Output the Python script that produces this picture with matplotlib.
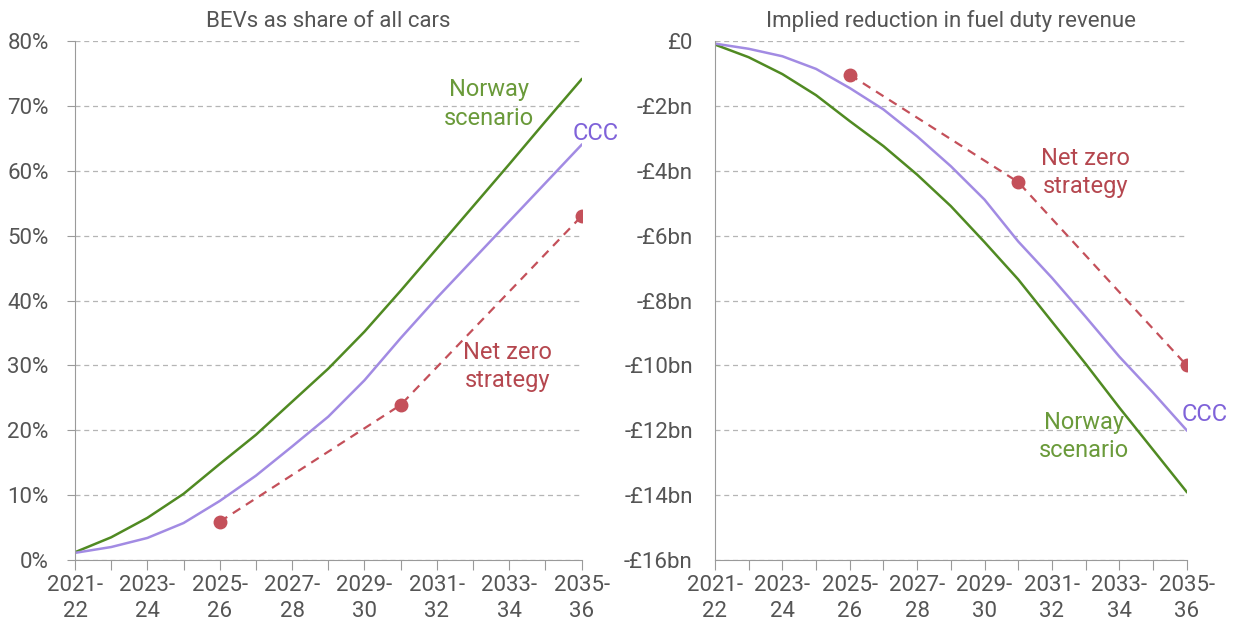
import matplotlib
matplotlib.use('Agg')
import matplotlib.pyplot as plt

plt.rcParams['font.family'] = ['Roboto', 'DejaVu Sans']

years = ['2021-22', '2022-23', '2023-24', '2024-25', '2025-26', '2026-27', '2027-28',
         '2028-29', '2029-30', '2030-31', '2031-32', '2032-33', '2033-34', '2034-35', '2035-36']
xi = list(range(len(years)))

# BEVs as share of all cars (%)
share_norway = [1.2, 3.5, 6.5, 10.2, 14.8, 19.3, 24.4, 29.5, 35.2, 41.5, 48.0, 54.5, 61.0, 67.6, 74.1]
share_ccc = [1.1, 2.0, 3.4, 5.7, 9.1, 13.0, 17.5, 22.1, 27.7, 34.2, 40.4, 46.3, 52.2, 58.1, 64.0]
nz_idx = [4, 9, 14]
share_nz = [5.9, 23.9, 53.0]

# Implied reduction in fuel duty revenue (£bn)
rev_norway = [-0.11, -0.50, -1.02, -1.67, -2.47, -3.24, -4.12, -5.09, -6.20, -7.35, -8.65, -9.95, -11.3, -12.6, -13.9]
rev_ccc = [-0.08, -0.24, -0.47, -0.86, -1.45, -2.11, -2.94, -3.86, -4.89, -6.18, -7.30, -8.50, -9.73, -10.84, -12.0]
rev_nz = [-1.04, -4.35, -10.0]

green = '#508a22'
green_txt = '#6a9a3a'
purple = '#a28be3'
purple_txt = '#7f62d9'
red = '#c4505a'
red_txt = '#b5474f'
grey_txt = '#555555'

fig = plt.figure(figsize=(12.4, 6.29), dpi=100)
ax1 = fig.add_axes([0.0605, 0.1097, 0.4085, 0.8251])
ax2 = fig.add_axes([0.5766, 0.1097, 0.3804, 0.8251])

def style(ax, ylim, yticks, ylabels, yticklen, ypad):
    ax.set_xlim(0, 14)
    ax.set_ylim(*ylim)
    ax.set_xticks(xi)
    ax.set_xticklabels([y[:5] + '\n' + y[5:] if k % 2 == 0 else '' for k, y in enumerate(years)])
    ax.set_yticks(yticks)
    ax.set_yticklabels(ylabels)
    for s in ['top', 'right']:
        ax.spines[s].set_visible(False)
    ax.spines['left'].set_color('#9a9a9a')
    ax.spines['bottom'].set_color('#9a9a9a')
    ax.tick_params(axis='x', length=7, color='#9a9a9a', labelsize=16, labelcolor=grey_txt, pad=4)
    ax.tick_params(axis='y', length=yticklen, color='#9a9a9a', labelsize=16, labelcolor=grey_txt, pad=ypad)
    for lbl in ax.get_xticklabels():
        lbl.set_linespacing(1.3)
    ax.grid(axis='y', color='#b5b5b5', linestyle=(0, (4, 3)), linewidth=0.9)
    ax.set_axisbelow(True)

# left panel
style(ax1, (0, 80), range(0, 81, 10), ['%d%%' % v for v in range(0, 81, 10)], 6, 13)
ax1.plot(xi, share_norway, color=green, lw=1.8)
ax1.plot(xi, share_ccc, color=purple, lw=1.8)
ax1.plot(nz_idx, share_nz, color=red, lw=1.6, ls=(0, (4, 3)), marker='o', ms=9)
ax1.set_title('BEVs as share of all cars', fontsize=16, color=grey_txt, pad=10)
ax1.text(11.45, 70.3, 'Norway\nscenario', color=green_txt, fontsize=17, ha='center', va='center', linespacing=1.3)
ax1.text(13.75, 65.7, 'CCC', color=purple_txt, fontsize=17, ha='left', va='center')
ax1.text(11.95, 29.8, 'Net zero\nstrategy', color=red_txt, fontsize=17, ha='center', va='center', linespacing=1.3)

# right panel
style(ax2, (-16, 0), range(-16, 1, 2), ['£0' if v == 0 else '-£%dbn' % -v for v in range(-16, 1, 2)], 0, 16)
ax2.plot(xi, rev_norway, color=green, lw=1.8)
ax2.plot(xi, rev_ccc, color=purple, lw=1.8)
ax2.plot(nz_idx, rev_nz, color=red, lw=1.6, ls=(0, (4, 3)), marker='o', ms=9)
ax2.set_title('Implied reduction in fuel duty revenue', fontsize=16, color=grey_txt, pad=10)
ax2.text(11.0, -4.05, 'Net zero\nstrategy', color=red_txt, fontsize=17, ha='center', va='center', linespacing=1.3)
ax2.text(13.85, -11.5, 'CCC', color=purple_txt, fontsize=17, ha='left', va='center')
ax2.text(10.95, -12.2, 'Norway\nscenario', color=green_txt, fontsize=17, ha='center', va='center', linespacing=1.3)

fig.savefig('out.png', dpi=100)
